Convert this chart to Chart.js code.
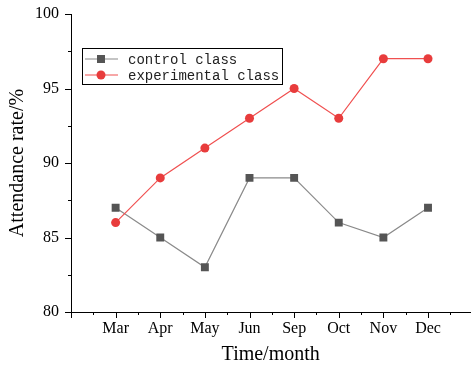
<!DOCTYPE html>
<html>
<head>
<meta charset="utf-8">
<script src="https://cdn.jsdelivr.net/npm/chart.js@4.4.1/dist/chart.umd.min.js"></script>
<style>
  body { margin: 0; background: #fff; }
  #wrap { width: 476px; height: 373px; }
</style>
</head>
<body>
<div id="wrap"><canvas id="graphCanvas"></canvas></div>
<script>
// data
const months = ['Mar', 'Apr', 'May', 'Jun', 'Sep', 'Oct', 'Nov', 'Dec'];
const controlClass = [87, 85, 83, 89, 89, 86, 85, 87];
const experimentalClass = [86, 89, 91, 93, 95, 93, 97, 97];
const yTicks = [80, 85, 90, 95, 100];

function toPoints(values) {
    return values.map((v, i) => ({ x: i, y: v }));
}

// minor + major tick marks drawn outward from the axes
const tickMarks = {
    id: 'tickMarks',
    afterDraw(chart) {
        const ctx = chart.ctx;
        const xs = chart.scales.x, ys = chart.scales.y;
        ctx.save();
        ctx.strokeStyle = '#000';
        ctx.lineWidth = 1;
        ctx.beginPath();
        for (let v = xs.min; v <= xs.max + 1e-6; v += 0.5) {
            const px = Math.round(xs.getPixelForValue(v)) + 0.5;
            const len = Number.isInteger(v) ? 6 : 3;
            ctx.moveTo(px, xs.top);
            ctx.lineTo(px, xs.top + len);
        }
        for (let v = ys.min; v <= ys.max + 1e-6; v += 2.5) {
            const py = Math.round(ys.getPixelForValue(v)) + 0.5;
            const len = (v % 5 === 0) ? 6 : 3;
            ctx.moveTo(ys.right, py);
            ctx.lineTo(ys.right - len, py);
        }
        ctx.stroke();
        ctx.restore();
    }
};

// boxed legend sitting inside the plot
const boxLegend = {
    id: 'boxLegend',
    afterDraw(chart) {
        const ctx = chart.ctx;
        const left = 82.5, top = 48.5, w = 200, h = 36;
        ctx.save();
        ctx.fillStyle = '#fff';
        ctx.fillRect(left, top, w, h);
        ctx.strokeStyle = '#000';
        ctx.lineWidth = 1;
        ctx.strokeRect(left, top, w, h);
        ctx.font = '14px "Liberation Mono"';
        ctx.textBaseline = 'middle';
        chart.data.datasets.forEach((ds, i) => {
            const y = 59 + i * 16;
            ctx.strokeStyle = ds.borderColor;
            ctx.lineWidth = 1.2;
            ctx.beginPath();
            ctx.moveTo(85, y);
            ctx.lineTo(118, y);
            ctx.stroke();
            ctx.fillStyle = ds.pointBackgroundColor;
            if (ds.pointStyle === 'rect') {
                ctx.fillRect(97, y - 4, 8, 8);
            } else {
                ctx.beginPath();
                ctx.arc(101, y, 4.5, 0, Math.PI * 2);
                ctx.fill();
            }
            ctx.fillStyle = '#222';
            ctx.fillText(ds.label, 128, y + 1);
        });
        ctx.restore();
    }
};

new Chart(document.getElementById('graphCanvas'), {
    type: 'line',
    data: {
        datasets: [
            {
                label: 'control class',
                data: toPoints(controlClass),
                borderColor: '#8a8a8a',
                borderWidth: 1.2,
                pointStyle: 'rect',
                pointRadius: 5.6,
                pointBackgroundColor: '#555555',
                pointBorderColor: '#555555',
                pointBorderWidth: 0,
                order: 2
            },
            {
                label: 'experimental class',
                data: toPoints(experimentalClass),
                borderColor: '#f05050',
                borderWidth: 1.2,
                pointStyle: 'circle',
                pointRadius: 4.5,
                pointBackgroundColor: '#e83c3c',
                pointBorderColor: '#e83c3c',
                pointBorderWidth: 0,
                order: 1
            }
        ]
    },
    options: {
        responsive: true,
        maintainAspectRatio: false,
        animation: false,
        layout: { padding: { top: 14, right: 0, left: 0, bottom: 0 } },
        plugins: {
            legend: { display: false },
            tooltip: { enabled: false }
        },
        scales: {
            x: {
                type: 'linear',
                min: -1,
                max: 7.95,
                afterFit: s => { s.height = 61; s.paddingLeft = 0; s.paddingRight = 0; },
                afterBuildTicks: s => {
                    s.ticks = months.map((m, i) => ({ value: i }));
                },
                ticks: {
                    autoSkip: false,
                    maxRotation: 0,
                    padding: 7,
                    color: '#000',
                    font: { family: '"Liberation Serif"', size: 16 },
                    callback: v => months[v] || ''
                },
                grid: { display: true, drawOnChartArea: false, drawTicks: false },
                border: { display: true, color: '#000', width: 1 },
                title: {
                    display: true,
                    text: 'Time/month',
                    color: '#000',
                    font: { family: '"Liberation Serif"', size: 20 },
                    padding: { top: 0, bottom: 6 }
                }
            },
            y: {
                min: 80,
                max: 100,
                afterFit: s => { s.width = 71; s.paddingTop = 0; s.paddingBottom = 0; },
                afterBuildTicks: s => {
                    s.ticks = yTicks.map(v => ({ value: v }));
                },
                ticks: {
                    padding: 12,
                    color: '#000',
                    font: { family: '"Liberation Serif"', size: 16 }
                },
                grid: { display: true, drawOnChartArea: false, drawTicks: false },
                border: { display: true, color: '#000', width: 1 },
                title: {
                    display: true,
                    text: 'Attendance rate/%',
                    color: '#000',
                    font: { family: '"Liberation Serif"', size: 20 },
                    padding: { top: 6, bottom: 0 }
                }
            }
        }
    },
    plugins: [tickMarks, boxLegend]
});
</script>
</body>
</html>
